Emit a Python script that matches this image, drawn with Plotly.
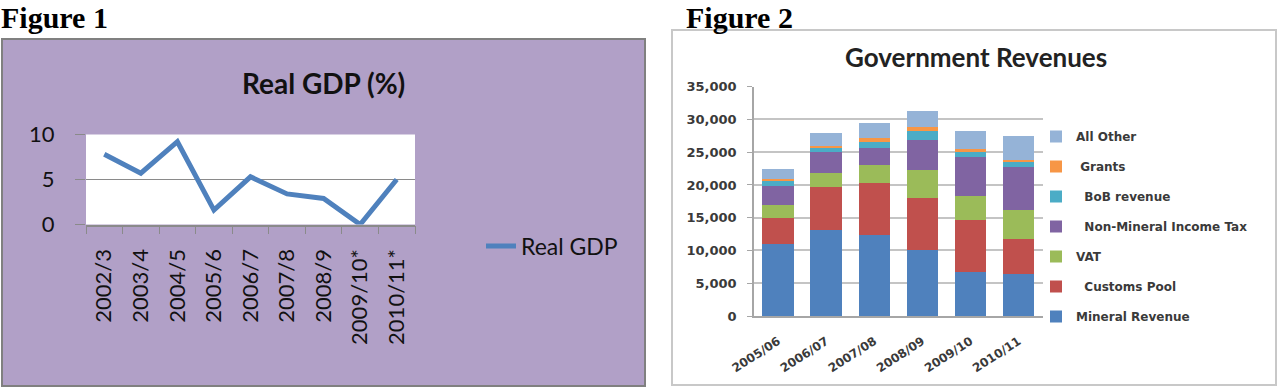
import plotly.graph_objects as go

W, H = 1280, 390

# ---------- Figure 1 data ----------
gdp_years = ["2002/3", "2003/4", "2004/5", "2005/6", "2006/7", "2007/8", "2008/9", "2009/10*", "2010/11*"]
gdp_values = [7.8, 5.7, 9.2, 1.6, 5.3, 3.4, 2.9, 0.0, 5.0]

# ---------- Figure 2 data ----------
rev_years = ["2005/06", "2006/07", "2007/08", "2008/09", "2009/10", "2010/11"]
mineral = [11000, 13100, 12400, 10000, 6700, 6400]
customs = [4000, 6600, 7900, 8000, 8000, 5300]
vat = [2000, 2200, 2700, 4300, 3600, 4500]
nmit = [2900, 3100, 2600, 4600, 6000, 6600]
bob = [800, 600, 900, 1400, 900, 800]
grants = [200, 400, 700, 600, 300, 200]
all_other = [1600, 1900, 2200, 2400, 2700, 3600]

series_names = ["Mineral Revenue", "\u00a0\u00a0Customs Pool", "VAT", "\u00a0\u00a0Non-Mineral Income Tax",
                "\u00a0\u00a0BoB revenue", "\u00a0Grants", "All Other"]
series_values = [mineral, customs, vat, nmit, bob, grants, all_other]
series_colors = ["#4F81BD", "#C0504D", "#9BBB59", "#8064A2", "#4BACC6", "#F79646", "#95B3D7"]


def px_x(p):
    return p / W


def px_y(p):
    return 1 - p / H


fig = go.Figure()

fig.add_trace(go.Scatter(
    x=gdp_years, y=gdp_values, mode="lines", name="Real GDP",
    line=dict(color="#4F81BD", width=5), xaxis="x", yaxis="y",
    legend="legend", showlegend=True,
))

n = len(series_names)
for i, (name, vals, col) in enumerate(zip(series_names, series_values, series_colors)):
    fig.add_trace(go.Bar(
        x=rev_years, y=vals, name=name, marker=dict(color=col, line=dict(width=0)),
        xaxis="x2", yaxis="y2", legend="legend2", legendgroup=name,
        legendrank=100 + (n - i), showlegend=True,
    ))

f1 = dict(family="Lato, Liberation Sans, sans-serif", color="#111111")
f2 = dict(family="DejaVu Sans, sans-serif", color="#3a3a3a", weight="bold")

fig.update_layout(
    template="none",
    width=W, height=H,
    autosize=False,
    showlegend=True,
    margin=dict(l=0, r=0, t=0, b=0, pad=0, autoexpand=False),
    paper_bgcolor="white",
    plot_bgcolor="rgba(0,0,0,0)",
    barmode="stack",
    bargap=0.345,
    xaxis=dict(
        domain=[px_x(86), px_x(415)], anchor="y", type="category", automargin=False,
        range=[-0.5, 8.5], tickson="boundaries", ticks="outside", ticklen=8,
        tickcolor="#8a8a8a", showline=True, linecolor="#8a8a8a", linewidth=1.5,
        showgrid=False, zeroline=False, tickangle=-90, tickfont=dict(size=22, **f1),
        ticklabelstandoff=14,
    ),
    yaxis=dict(
        domain=[px_y(224.5), px_y(134.5)], anchor="x", range=[0, 10], dtick=5,
        automargin=False,
        showgrid=True, gridcolor="#8a8a8a", gridwidth=1.2, zeroline=False,
        ticks="outside", ticklen=10, tickcolor="#8a8a8a", showline=False,
        tickfont=dict(size=22, **f1), ticklabelstandoff=16,
    ),
    xaxis2=dict(
        domain=[px_x(754), px_x(1042.6)], anchor="y2", type="category", automargin=False,
        showline=True, linecolor="#a6a6a6", linewidth=1.5, showgrid=False, zeroline=False,
        ticks="", tickangle=-33, tickfont=dict(size=12, **f2), ticklabelstandoff=12,
    ),
    yaxis2=dict(
        domain=[px_y(316), px_y(86.7)], anchor="x2", range=[0, 35000], dtick=5000,
        automargin=False,
        tickformat=",", showgrid=True, gridcolor="#c4c4c4", gridwidth=1.5,
        zeroline=False, showline=True, linecolor="#a6a6a6", linewidth=1.5,
        ticks="outside", ticklen=5, tickcolor="#a6a6a6",
        tickfont=dict(size=13, **f2), ticklabelstandoff=8,
    ),
    legend=dict(
        x=px_x(481), y=px_y(246), xanchor="left", yanchor="middle",
        bgcolor="rgba(0,0,0,0)", borderwidth=0, font=dict(size=23, **f1),
    ),
    legend2=dict(
        x=px_x(1036), y=px_y(122), xanchor="left", yanchor="top",
        bgcolor="rgba(0,0,0,0)", borderwidth=0, font=dict(size=12, **f2),
        traceorder="grouped", tracegroupgap=11,
    ),
    shapes=[
        dict(type="rect", xref="paper", yref="paper", layer="below",
             x0=px_x(2), x1=px_x(645), y0=px_y(386), y1=px_y(39),
             fillcolor="#B1A0C7", line=dict(color="#808080", width=2)),
        dict(type="rect", xref="paper", yref="paper", layer="below",
             x0=px_x(86), x1=px_x(415), y0=px_y(224.5), y1=px_y(134.5),
             fillcolor="white", line=dict(width=0)),
        dict(type="rect", xref="paper", yref="paper", layer="below",
             x0=px_x(672), x1=px_x(1276), y0=px_y(385), y1=px_y(30),
             fillcolor="white", line=dict(color="#c8c8c8", width=2)),
    ],
    annotations=[
        dict(text="<b>Figure 1</b>", xref="paper", yref="paper", x=px_x(0), y=1,
             xanchor="left", yanchor="top", showarrow=False, borderpad=0,
             font=dict(family="Liberation Serif, serif", size=30, color="black")),
        dict(text="<b>Figure 2</b>", xref="paper", yref="paper", x=px_x(685), y=1,
             xanchor="left", yanchor="top", showarrow=False, borderpad=0,
             font=dict(family="Liberation Serif, serif", size=30, color="black")),
        dict(text="<b>Real GDP (%)</b>", xref="paper", yref="paper", x=px_x(323), y=px_y(83),
             xanchor="center", yanchor="middle", showarrow=False,
             font=dict(family="Lato, Liberation Sans, sans-serif", size=28, color="#111111")),
        dict(text="<b>Government Revenues</b>", xref="paper", yref="paper", x=px_x(976), y=px_y(57),
             xanchor="center", yanchor="middle", showarrow=False,
             font=dict(family="Lato, Liberation Sans, sans-serif", size=26, color="#222222")),
    ],
)

fig.write_html("out.html", config={"displayModeBar": False},
               post_script="document.body.style.margin='0';")
